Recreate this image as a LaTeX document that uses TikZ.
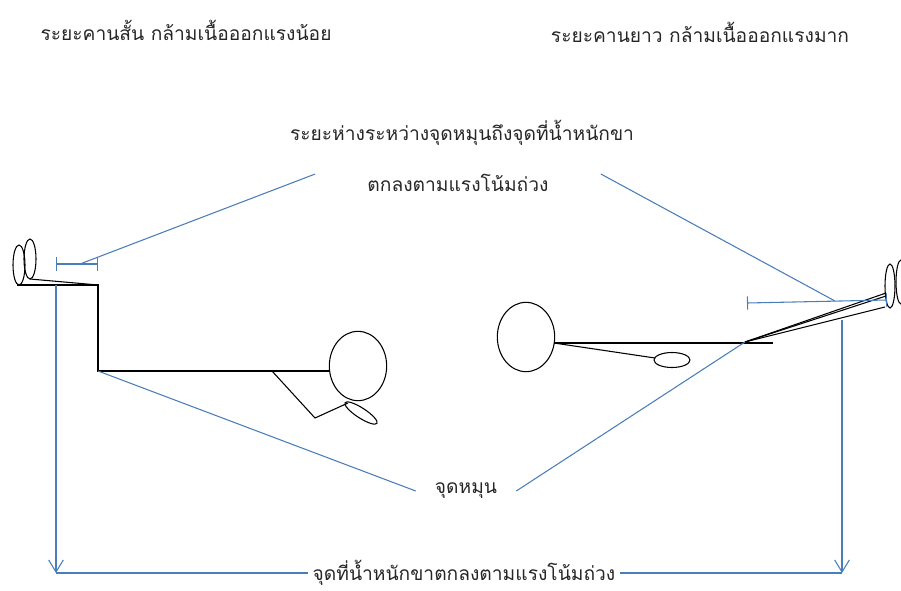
\documentclass[tikz,border=0pt]{standalone}
\usepackage{fontspec}
\newfontfamily\thaifont[Script=Thai]{Loma}
\usetikzlibrary{arrows.meta, shapes.geometric}

\definecolor{guideblue}{RGB}{74,126,187}

\begin{document}
\begin{tikzpicture}[
    x=0.75pt, y=-0.75pt,
    thaitext/.style={font=\thaifont\fontsize{14.4}{17}\selectfont, inner sep=0pt, text=black!85},
    body/.style={draw=black, line width=0.8pt},
    guide/.style={draw=guideblue, line width=0.8pt},
    span/.style={guide, {Bar[width=10pt]}-{Bar[width=10pt]}},
    drop/.style={guide, -{Straight Barb[length=9pt, width=11pt]}}
]
    \useasboundingbox (0,0) rectangle (901,590);

    % Titles
    \node[thaitext] (shortarm) at (186,30) {ระยะคานสั้น กล้ามเนื้อออกแรงน้อย};
    \node[thaitext] (longarm) at (700,32) {ระยะคานยาว กล้ามเนื้อออกแรงมาก};

    % Middle labels
    \node[thaitext] (distA) at (462,133) {ระยะห่างระหว่างจุดหมุนถึงจุดที่น้ำหนักขา};
    \node[thaitext, minimum width=214pt] (distB) at (458,183) {ตกลงตามแรงโน้มถ่วง};
    \node[thaitext, minimum width=75pt] (pivot) at (466,491) {จุดหมุน};
    \node[thaitext, fill=white, inner xsep=3pt] (fall) at (464,573) {จุดที่น้ำหนักขาตกลงตามแรงโน้มถ่วง};

    % Left figure: legs up, bent at the hip
    \coordinate (lheel) at (17,285);
    \coordinate (lknee) at (98,285);
    \coordinate (lhip) at (98,371);
    \node[body, ellipse, minimum width=43pt, minimum height=52pt, inner sep=0pt] (lhead) at (358,366) {};
    \draw[body] (19,265) ellipse [x radius=6, y radius=20];
    \draw[body] (30,259) ellipse [x radius=6, y radius=20];
    \draw[body] (lheel) -- (lknee) -- (lhip) -- (lhip -| lhead.west);
    \draw[body] (30,279) -- (lknee);
    \draw[body] (272,371) -- (315,418) -- (348,403);
    \draw[body] (361,413) ellipse [x radius=19, y radius=5, rotate=-33];

    % Right figure: legs stretched out
    \coordinate (rhip) at (745,342);
    \coordinate (rneck) at (554,343);
    \node[body, ellipse, minimum width=43pt, minimum height=52pt, inner sep=0pt] (rhead) at (526,337) {};
    \draw[body] (rneck) -- (773,343);
    \draw[body] (rneck) -- (655,358);
    \draw[body] (672,360) ellipse [x radius=18, y radius=7.5];
    \draw[body] (rhip) -- (886,293);
    \draw[body] (rhip) -- (886,296);
    \draw[body] (rhip) -- (885,307);
    \draw[body] (890,286) ellipse [x radius=5, y radius=22];
    \draw[body] (901,282) ellipse [x radius=5, y radius=22];

    % Lever arms
    \coordinate (lbar) at (80,264);
    \coordinate (rbar) at (835,301);
    \draw[span] (56,264) -- (98,264);
    \draw[span] (747,303) -- (887,300);
    \draw[guide] (lbar) -- (distB.north west);
    \draw[guide] (distB.north east) -- (rbar);
    \draw[guide] (lhip) -- (pivot.west);
    \draw[guide] (pivot.east) -- (rhip);

    % Weight lines down to the floor
    \coordinate (ltop) at (56,285);
    \coordinate (lfloor) at (56,573);
    \coordinate (rtop) at (842,320);
    \coordinate (rfloor) at (842,573);
    \draw[drop] (ltop) -- (lfloor);
    \draw[drop] (rtop) -- (rfloor);
    \draw[guide] (lfloor) -- (fall.west);
    \draw[guide] (fall.east) -- (rfloor);
\end{tikzpicture}
\end{document}
